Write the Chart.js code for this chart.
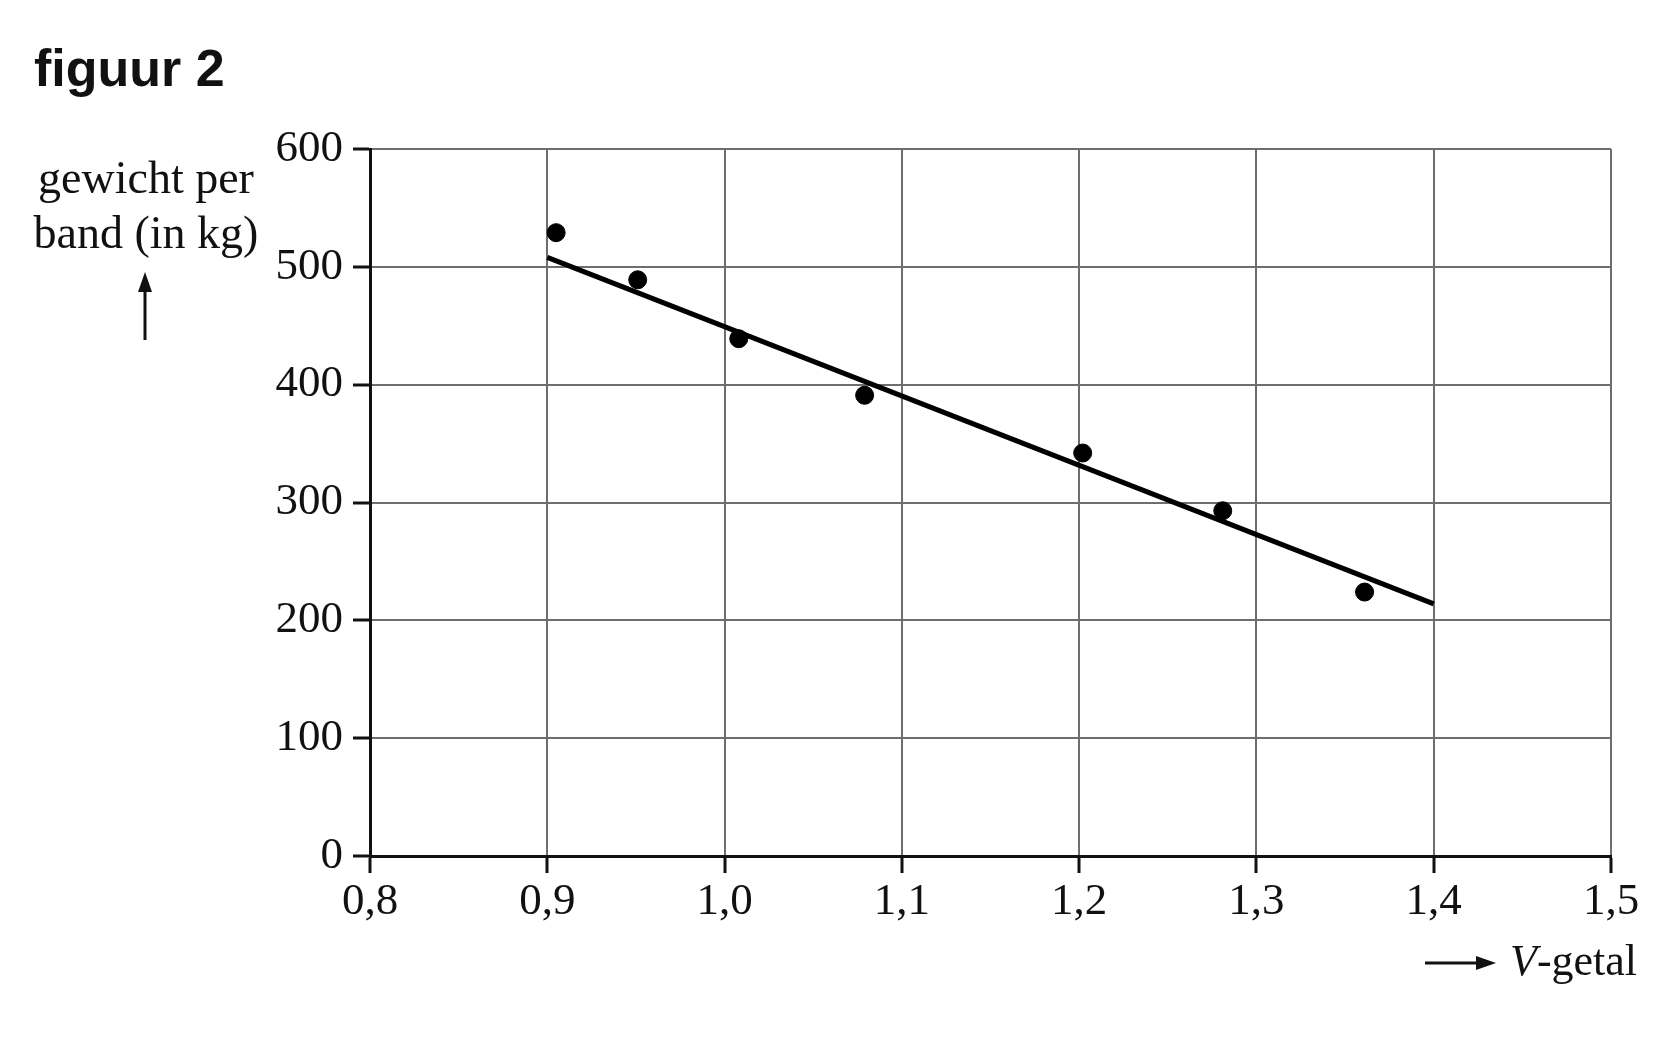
<!DOCTYPE html>
<html>
<head>
<meta charset="utf-8">
<script src="https://cdn.jsdelivr.net/npm/chart.js@4/dist/chart.umd.min.js"></script>
<style>
  html, body { margin: 0; padding: 0; background: #fff; }
  #wrap { position: relative; width: 1672px; height: 1048px; }
  canvas { position: absolute; left: 0; top: 0; }
  .txt { position: absolute; color: #111; white-space: nowrap; }
  #title { left: 34px; top: 42px; font: bold 52px "Liberation Sans", Arial, sans-serif; line-height: 1; }
  #ylab { left: 1px; top: 150px; width: 290px; text-align: center; font: 46px "Liberation Serif", "Times New Roman", serif; line-height: 55px; }
  #xlab { left: 1510px; top: 933px; font: 44px "Liberation Serif", "Times New Roman", serif; line-height: 55px; }
</style>
</head>
<body>
<div id="wrap">
  <canvas id="grafiek" width="1672" height="1048"></canvas>
  <div class="txt" id="title">figuur 2</div>
  <div class="txt" id="ylab">gewicht per<br>band (in kg)</div>
  <div class="txt" id="xlab"><i>V</i>-getal</div>
</div>
<script>
// meetpunten
const vGetal = [0.905, 0.951, 1.008, 1.079, 1.202, 1.281, 1.361];
const gewicht = [529, 489, 439, 391, 342, 293, 224];

// trendlijn (begin- en eindpunt)
const lijnX = [0.9, 1.4];
const lijnY = [508, 214];

const xTicks = [0.8, 0.9, 1.0, 1.1, 1.2, 1.3, 1.4, 1.5];
const yTicks = [0, 100, 200, 300, 400, 500, 600];

const tickFont = { family: '"Liberation Serif", "Times New Roman", serif', size: 45 };

// pijltjes bij de astitels
const pijlen = {
  id: 'pijlen',
  afterDraw(chart) {
    const c = chart.ctx;
    c.save();
    c.strokeStyle = '#111';
    c.fillStyle = '#111';
    c.lineWidth = 3;
    // omhoog
    c.beginPath();
    c.moveTo(145, 340);
    c.lineTo(145, 285);
    c.stroke();
    c.beginPath();
    c.moveTo(145, 272);
    c.lineTo(138, 292);
    c.lineTo(152, 292);
    c.closePath();
    c.fill();
    // naar rechts
    c.beginPath();
    c.moveTo(1425, 963);
    c.lineTo(1482, 963);
    c.stroke();
    c.beginPath();
    c.moveTo(1496, 963);
    c.lineTo(1476, 956);
    c.lineTo(1476, 970);
    c.closePath();
    c.fill();
    c.restore();
  }
};

const ctx = document.getElementById('grafiek').getContext('2d');
new Chart(ctx, {
  type: 'scatter',
  data: {
    datasets: [{
      label: 'metingen',
      data: vGetal.map((v, i) => ({ x: v, y: gewicht[i] })),
      backgroundColor: '#000',
      borderColor: '#000',
      pointRadius: 9,
      pointHoverRadius: 9
    }, {
      type: 'line',
      label: 'trend',
      data: lijnX.map((v, i) => ({ x: v, y: lijnY[i] })),
      borderColor: '#000',
      borderWidth: 5,
      pointRadius: 0,
      fill: false
    }]
  },
  options: {
    responsive: false,
    animation: false,
    events: [],
    layout: { padding: { top: 149, right: 61, left: 0, bottom: 0 } },
    plugins: { legend: { display: false }, tooltip: { enabled: false } },
    scales: {
      x: {
        type: 'linear',
        min: 0.8,
        max: 1.5,
        afterBuildTicks: s => { s.ticks = xTicks.map(v => ({ value: v })); },
        afterFit: s => { s.height = 192; },
        grid: { color: '#6e6e6e', lineWidth: 2, tickLength: 17, tickColor: '#111', tickWidth: 3 },
        border: { color: '#111', width: 3 },
        ticks: {
          color: '#111',
          font: tickFont,
          padding: 2,
          maxRotation: 0,
          callback: v => v.toFixed(1).replace('.', ',')
        }
      },
      y: {
        min: 0,
        max: 600,
        afterBuildTicks: s => { s.ticks = yTicks.map(v => ({ value: v })); },
        afterFit: s => { s.width = 370; },
        grid: { color: '#6e6e6e', lineWidth: 2, tickLength: 17, tickColor: '#111', tickWidth: 3 },
        border: { color: '#111', width: 3 },
        ticks: { color: '#111', font: tickFont, padding: 10 }
      }
    }
  },
  plugins: [pijlen]
});
</script>
</body>
</html>
